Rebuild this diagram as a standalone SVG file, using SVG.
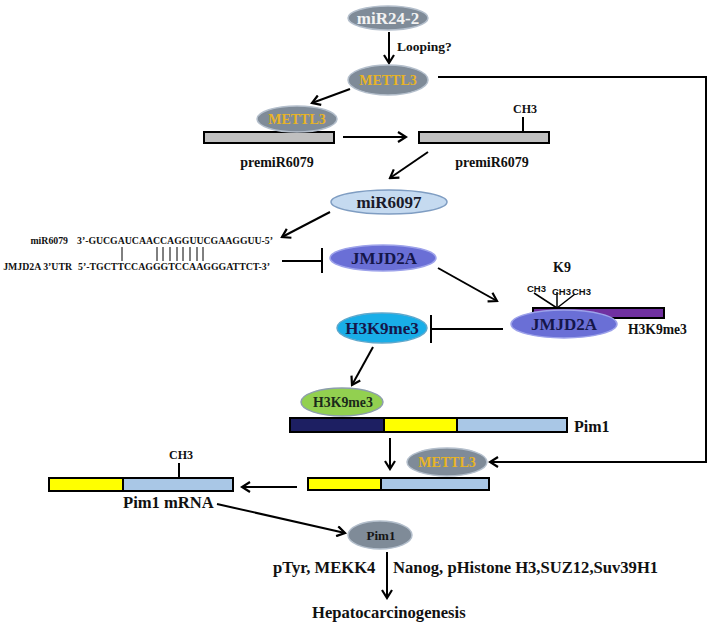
<svg xmlns="http://www.w3.org/2000/svg" width="709" height="625" viewBox="0 0 709 625">
<defs>
<marker id="arr" viewBox="0 0 12 12" refX="10" refY="6" markerWidth="12" markerHeight="12" markerUnits="userSpaceOnUse" orient="auto">
<path d="M2,1 L10,6 L2,11" fill="none" stroke="#000" stroke-width="2.2"/>
</marker>
</defs>
<style>
text{font-family:"Liberation Serif","Times New Roman",serif;font-weight:bold;fill:#111}
.c{text-anchor:middle}
.grey{fill:#7f8b98;stroke:#b4bfcc;stroke-width:1.5}
.mt{fill:#e8b425;font-size:14px}
.ln{stroke:#000;stroke-width:2;fill:none}
.bar{stroke:#000;stroke-width:2}
.seq{font-size:9.8px}
.sans{font-family:"Liberation Sans",Arial,sans-serif;font-size:9.5px}
.big{font-size:16.6px}
</style>

<g id="connectors">
<line class="ln" x1="389" y1="32" x2="389" y2="63" marker-end="url(#arr)"/>
<line class="ln" x1="350" y1="89" x2="312" y2="103" marker-end="url(#arr)"/>
<polyline class="ln" points="438,77 706,77 706,462 490,462" marker-end="url(#arr)"/>
<line class="ln" x1="343" y1="137" x2="406" y2="137" marker-end="url(#arr)"/>
<line class="ln" x1="428" y1="152" x2="390" y2="178" marker-end="url(#arr)"/>
<line class="ln" x1="330" y1="212" x2="282" y2="237" marker-end="url(#arr)"/>
<line class="ln" x1="282" y1="261" x2="321" y2="261"/>
<line class="ln" x1="322" y1="248" x2="322" y2="273" stroke-width="2.5"/>
<line class="ln" x1="438" y1="268" x2="497" y2="301" marker-end="url(#arr)"/>
<line class="ln" x1="503" y1="329" x2="432" y2="329"/>
<line class="ln" x1="431" y1="315" x2="431" y2="343" stroke-width="2.5"/>
<line class="ln" x1="373" y1="347" x2="352" y2="385" marker-end="url(#arr)"/>
<line class="ln" x1="390" y1="438" x2="390" y2="469" marker-end="url(#arr)"/>
<line class="ln" x1="297" y1="487" x2="242" y2="487" marker-end="url(#arr)"/>
<line class="ln" x1="217" y1="504" x2="345" y2="533" marker-end="url(#arr)"/>
<line class="ln" x1="387" y1="552" x2="387" y2="598" marker-end="url(#arr)"/>
</g>

<g id="miR24-2">
<ellipse class="grey" cx="388" cy="18" rx="40" ry="12"/>
<text class="c" x="388" y="24" font-size="17" style="fill:#f2f2f2">miR24-2</text>
</g>
<text x="397" y="51" font-size="13.5">Looping?</text>

<g id="METTL3-top">
<ellipse class="grey" cx="388" cy="80" rx="40" ry="15"/>
<text class="c mt" x="388" y="85">METTL3</text>
</g>

<g id="premiR6079-a">
<rect class="bar" x="204" y="132" width="130" height="11" fill="#c0c0c0"/>
<ellipse class="grey" cx="297" cy="119" rx="40" ry="13"/>
<text class="c mt" x="297" y="124">METTL3</text>
<text class="c" x="277" y="167" font-size="14">premiR6079</text>
</g>

<g id="premiR6079-b">
<rect class="bar" x="419" y="132" width="130" height="11" fill="#c0c0c0"/>
<line class="ln" x1="523" y1="117" x2="523" y2="132"/>
<text class="c" x="525" y="113" font-size="12">CH3</text>
<text class="c" x="492" y="167" font-size="14">premiR6079</text>
</g>

<g id="miR6097">
<ellipse cx="389" cy="202" rx="58" ry="12" fill="#c5daf0" stroke="#7f9dc2" stroke-width="1.5"/>
<text class="c" x="389" y="208" font-size="17" style="fill:#1a1a2a">miR6097</text>
</g>

<g id="sequence">
<text class="seq" x="68" y="244" text-anchor="end">miR6079</text>
<text class="seq" x="77" y="244" textLength="196" lengthAdjust="spacingAndGlyphs">3’-GUCGAUCAACCAGGUUCGAAGGUU-5’</text>
<text class="seq" x="72" y="270" text-anchor="end">JMJD2A 3’UTR</text>
<text class="seq" x="78" y="270" textLength="192" lengthAdjust="spacingAndGlyphs">5’-TGCTTCCAGGGTCCAAGGGATTCT-3’</text>
<g stroke="#000" stroke-width="1">
<line x1="122" y1="247" x2="122" y2="261"/>
<line x1="157" y1="247" x2="157" y2="261"/>
<line x1="163" y1="247" x2="163" y2="261"/>
<line x1="170" y1="247" x2="170" y2="261"/>
<line x1="177" y1="247" x2="177" y2="261"/>
<line x1="183" y1="247" x2="183" y2="261"/>
<line x1="190" y1="247" x2="190" y2="261"/>
<line x1="197" y1="247" x2="197" y2="261"/>
<line x1="203" y1="247" x2="203" y2="261"/>
</g>
</g>

<g id="JMJD2A-top">
<ellipse cx="383" cy="258" rx="53" ry="13" fill="#6a6fd6" stroke="#9da2ea" stroke-width="1.5"/>
<text class="c" x="384" y="264" font-size="17" style="fill:#15164a">JMJD2A</text>
</g>

<g id="histone">
<text class="c" x="562" y="272" font-size="14">K9</text>
<g stroke="#000" stroke-width="1.5">
<line x1="557" y1="308" x2="534" y2="293"/>
<line x1="557" y1="308" x2="557" y2="292"/>
<line x1="557" y1="308" x2="575" y2="294"/>
</g>
<text class="sans" x="527" y="292">CH3</text>
<text class="sans" x="552" y="295">CH3</text>
<text class="sans" x="572" y="295">CH3</text>
<rect class="bar" x="533" y="308" width="131" height="10" fill="#7030a0"/>
<ellipse cx="564" cy="324" rx="53" ry="14" fill="#6a6fd6" stroke="#9da2ea" stroke-width="1.5"/>
<text class="c" x="564" y="330" font-size="17" style="fill:#15164a">JMJD2A</text>
<text x="628" y="334" font-size="13.6">H3K9me3</text>
</g>

<g id="H3K9me3-cyan">
<ellipse cx="382" cy="328" rx="45" ry="15" fill="#19aee8" stroke="#5fa8cc" stroke-width="1.5"/>
<text class="c" x="382" y="334" font-size="17" style="fill:#15164a">H3K9me3</text>
</g>

<g id="Pim1-gene">
<ellipse cx="342" cy="402" rx="41" ry="14" fill="#92d050" stroke="#8d9eac" stroke-width="1.5"/>
<text class="c" x="343" y="407" font-size="13.8" style="fill:#1a2a1a">H3K9me3</text>
<rect x="290" y="418" width="94" height="14" fill="#1d1f62"/>
<rect x="384" y="418" width="73" height="14" fill="#ffff00"/>
<rect x="457" y="418" width="110" height="14" fill="#a9c7e6"/>
<rect class="bar" x="290" y="418" width="277" height="14" fill="none"/>
<line x1="384" y1="418" x2="384" y2="432" stroke="#000" stroke-width="2"/>
<line x1="457" y1="418" x2="457" y2="432" stroke="#000" stroke-width="2"/>
<text x="574" y="432" font-size="16">Pim1</text>
</g>

<g id="METTL3-bottom">
<rect x="308" y="478" width="73" height="12" fill="#ffff00"/>
<rect x="381" y="478" width="108" height="12" fill="#a9c7e6"/>
<rect class="bar" x="308" y="478" width="181" height="12" fill="none"/>
<line x1="381" y1="478" x2="381" y2="490" stroke="#000" stroke-width="2"/>
<ellipse class="grey" cx="447" cy="462" rx="40" ry="14"/>
<text class="c mt" x="447" y="467">METTL3</text>
</g>

<g id="Pim1-mRNA">
<rect x="49" y="478" width="74" height="13" fill="#ffff00"/>
<rect x="123" y="478" width="110" height="13" fill="#a9c7e6"/>
<rect class="bar" x="49" y="478" width="184" height="13" fill="none"/>
<line x1="123" y1="478" x2="123" y2="491" stroke="#000" stroke-width="2"/>
<line class="ln" x1="179" y1="463" x2="179" y2="478"/>
<text class="c" x="181" y="459" font-size="12">CH3</text>
<text x="123" y="508" font-size="16.6">Pim1 mRNA</text>
</g>

<g id="Pim1">
<ellipse class="grey" cx="380" cy="535" rx="32" ry="14"/>
<text class="c" x="381" y="540" font-size="13" style="fill:#151515">Pim1</text>
</g>
<text class="big" x="273" y="573">pTyr, MEKK4</text>
<text class="big" x="393" y="573">Nanog, pHistone H3,SUZ12,Suv39H1</text>
<g id="Hepatocarcinogenesis">
<text class="big" x="312" y="618">Hepatocarcinogenesis</text>
</g>
</svg>
